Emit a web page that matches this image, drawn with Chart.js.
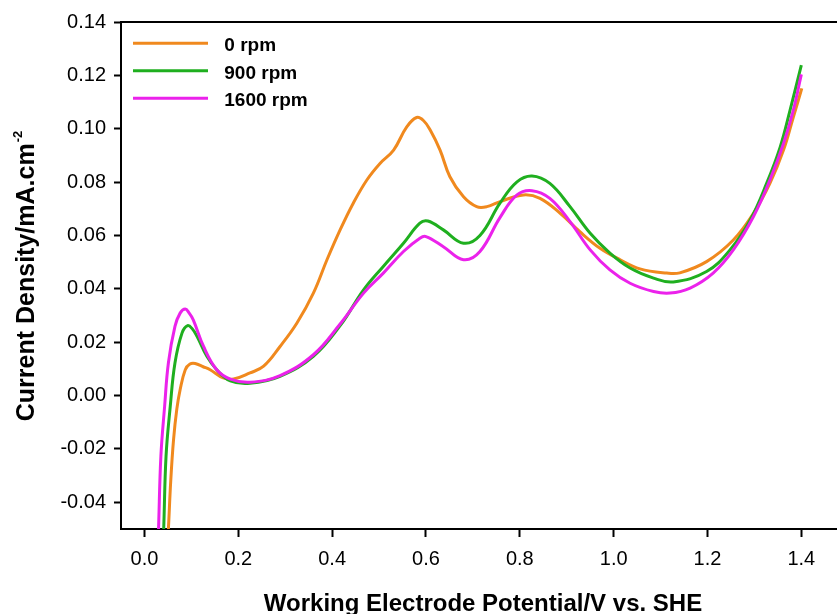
<!DOCTYPE html>
<html>
<head>
<meta charset="utf-8">
<script src="https://cdn.jsdelivr.net/npm/chart.js@4/dist/chart.umd.min.js"></script>
<style>
  html, body { margin: 0; padding: 0; background: #ffffff; }
  #wrap { width: 837px; height: 614px; position: relative; }
</style>
</head>
<body>
<div id="wrap"><canvas id="cv" width="837" height="614"></canvas></div>
<script>
// Linear sweep voltammograms at three rotation rates
const seriesLabels = ['0 rpm', '900 rpm', '1600 rpm'];
const seriesColors = ['#F0891E', '#1FAF1F', '#EB22EB'];

// 0 rpm: potential (V vs. SHE) and current density (mA/cm2)
const potential0 = [0.047, 0.051, 0.056, 0.062, 0.069, 0.076, 0.087, 0.097, 0.108, 0.125, 0.140, 0.168, 0.190, 0.225, 0.254, 0.289, 0.325, 0.360, 0.389, 0.417, 0.445, 0.474, 0.502, 0.531, 0.559, 0.580, 0.595, 0.609, 0.630, 0.651, 0.680, 0.708, 0.730, 0.758, 0.808, 0.843, 0.886, 0.928, 0.971, 1.014, 1.056, 1.113, 1.141, 1.198, 1.255, 1.298, 1.333, 1.362, 1.383, 1.401];
const current0   = [-0.062, -0.050, -0.032, -0.0165, -0.005, 0.0022, 0.0097, 0.0118, 0.0120, 0.0108, 0.0097, 0.0066, 0.0062, 0.0085, 0.0110, 0.0184, 0.0272, 0.0384, 0.0509, 0.0621, 0.0721, 0.0808, 0.0870, 0.0920, 0.1007, 0.1042, 0.1030, 0.0995, 0.0920, 0.0820, 0.0745, 0.0708, 0.0708, 0.0727, 0.0752, 0.0739, 0.0683, 0.0614, 0.0552, 0.0509, 0.0475, 0.0459, 0.0460, 0.0502, 0.0583, 0.0683, 0.0795, 0.0920, 0.1044, 0.1151];

// 900 rpm
const potential900 = [0.037, 0.041, 0.046, 0.055, 0.065, 0.080, 0.092, 0.102, 0.112, 0.133, 0.154, 0.183, 0.225, 0.289, 0.360, 0.417, 0.467, 0.509, 0.552, 0.587, 0.604, 0.637, 0.680, 0.715, 0.758, 0.794, 0.826, 0.864, 0.907, 0.950, 0.992, 1.035, 1.085, 1.127, 1.198, 1.248, 1.291, 1.326, 1.355, 1.376, 1.400];
const current900   = [-0.067, -0.050, -0.0227, -0.004, 0.0122, 0.0234, 0.0262, 0.0250, 0.0222, 0.0147, 0.0097, 0.0055, 0.0046, 0.0072, 0.0147, 0.0262, 0.0396, 0.0484, 0.0571, 0.0646, 0.0654, 0.0621, 0.0571, 0.0600, 0.0722, 0.0801, 0.0823, 0.0795, 0.0708, 0.0608, 0.0534, 0.0478, 0.0440, 0.0426, 0.0465, 0.0546, 0.0658, 0.0795, 0.0932, 0.1070, 0.1238];

// 1600 rpm
const potential1600 = [0.027, 0.030, 0.035, 0.043, 0.051, 0.065, 0.076, 0.087, 0.095, 0.104, 0.126, 0.154, 0.183, 0.225, 0.289, 0.360, 0.417, 0.467, 0.509, 0.552, 0.587, 0.600, 0.637, 0.680, 0.715, 0.758, 0.794, 0.826, 0.864, 0.907, 0.950, 0.992, 1.035, 1.085, 1.120, 1.163, 1.212, 1.255, 1.298, 1.333, 1.362, 1.383, 1.400];
const current1600   = [-0.065, -0.050, -0.0227, -0.004, 0.0122, 0.0259, 0.0309, 0.0324, 0.0310, 0.0284, 0.0184, 0.0097, 0.0062, 0.0050, 0.0075, 0.0153, 0.0268, 0.0384, 0.0459, 0.0540, 0.0590, 0.0596, 0.0558, 0.0509, 0.0540, 0.0668, 0.0752, 0.0768, 0.0739, 0.0652, 0.0546, 0.0471, 0.0421, 0.0390, 0.0384, 0.0403, 0.0459, 0.0546, 0.0671, 0.0808, 0.0945, 0.1070, 0.1204];

// Tick values
const xTickValues = [0.0, 0.2, 0.4, 0.6, 0.8, 1.0, 1.2, 1.4];
const yTickValues = [-0.04, -0.02, 0.00, 0.02, 0.04, 0.06, 0.08, 0.10, 0.12, 0.14];

const xTitle = 'Working Electrode Potential/V vs. SHE';
const yTitleMain = 'Current Density/mA.cm';
const yTitleSup = '-2';

const FONT = '"Liberation Sans", Arial, Helvetica, sans-serif';

function toPoints(xs, ys) {
  return xs.map((x, i) => ({ x: x, y: ys[i] }));
}

const allX = [potential0, potential900, potential1600];
const allY = [current0, current900, current1600];

const datasets = seriesLabels.map((label, i) => ({
  label: label,
  data: toPoints(allX[i], allY[i]),
  borderColor: seriesColors[i],
  backgroundColor: seriesColors[i],
  borderWidth: 3,
  pointRadius: 0,
  fill: false,
  tension: 0.4,
  clip: 0,
  order: 3 - i
}));

// Frame top line, axis titles and the in-plot legend
const decorations = {
  id: 'decorations',
  afterDraw(chart) {
    const ctx = chart.ctx;
    const a = chart.chartArea;
    ctx.save();
    // top frame line
    ctx.strokeStyle = '#000';
    ctx.lineWidth = 2;
    ctx.beginPath();
    ctx.moveTo(a.left - 1, a.top);
    ctx.lineTo(a.right, a.top);
    ctx.stroke();

    // x axis title
    ctx.fillStyle = '#000';
    ctx.font = 'bold 24px ' + FONT;
    ctx.textAlign = 'center';
    ctx.textBaseline = 'alphabetic';
    ctx.fillText(xTitle, 483, 610.5);

    // y axis title with superscript
    ctx.save();
    ctx.translate(34.3, 276);
    ctx.rotate(-Math.PI / 2);
    ctx.font = 'bold 25px ' + FONT;
    const w1 = ctx.measureText(yTitleMain).width;
    ctx.font = 'bold 13px ' + FONT;
    const w2 = ctx.measureText(yTitleSup).width;
    const start = -(w1 + w2 + 1) / 2;
    ctx.textAlign = 'left';
    ctx.font = 'bold 25px ' + FONT;
    ctx.fillText(yTitleMain, start, 0);
    ctx.font = 'bold 13px ' + FONT;
    ctx.fillText(yTitleSup, start + w1 + 1, -12.5);
    ctx.restore();

    // legend
    const rowLineY = [43.3, 70.7, 98.3];
    ctx.font = 'bold 19px ' + FONT;
    ctx.textAlign = 'left';
    ctx.textBaseline = 'alphabetic';
    seriesLabels.forEach((label, i) => {
      ctx.strokeStyle = seriesColors[i];
      ctx.lineWidth = 3;
      ctx.beginPath();
      ctx.moveTo(133, rowLineY[i]);
      ctx.lineTo(208, rowLineY[i]);
      ctx.stroke();
      ctx.fillStyle = '#000';
      ctx.fillText(label, 224.3, rowLineY[i] + 7.9);
    });
    ctx.restore();
  }
};

new Chart(document.getElementById('cv'), {
  type: 'line',
  data: { datasets: datasets },
  options: {
    responsive: false,
    animation: false,
    events: [],
    layout: { padding: { top: 22, right: 0, bottom: 0, left: 0 } },
    plugins: {
      legend: { display: false },
      tooltip: { enabled: false },
      title: { display: false }
    },
    scales: {
      x: {
        type: 'linear',
        min: -0.05,
        max: 1.476,
        afterBuildTicks: (s) => { s.ticks = xTickValues.map(v => ({ value: v })); },
        afterFit: (s) => { s.height = 85; },
        ticks: {
          autoSkip: false,
          maxRotation: 0,
          padding: 10,
          color: '#000',
          font: { family: FONT, size: 20 },
          callback: (v) => Number(v).toFixed(1)
        },
        grid: { drawOnChartArea: false, drawTicks: true, tickLength: 8, tickWidth: 2, tickColor: '#000' },
        border: { display: true, color: '#000', width: 2 },
        title: { display: false }
      },
      y: {
        type: 'linear',
        min: -0.05,
        max: 0.14,
        afterBuildTicks: (s) => { s.ticks = yTickValues.map(v => ({ value: v })); },
        afterFit: (s) => { s.width = 121; },
        ticks: {
          autoSkip: false,
          padding: 8,
          color: '#000',
          font: { family: FONT, size: 20 },
          callback: (v) => Number(v).toFixed(2)
        },
        grid: { drawOnChartArea: false, drawTicks: true, tickLength: 7, tickWidth: 2, tickColor: '#000' },
        border: { display: true, color: '#000', width: 2 },
        title: { display: false }
      }
    }
  },
  plugins: [decorations]
});
</script>
</body>
</html>
